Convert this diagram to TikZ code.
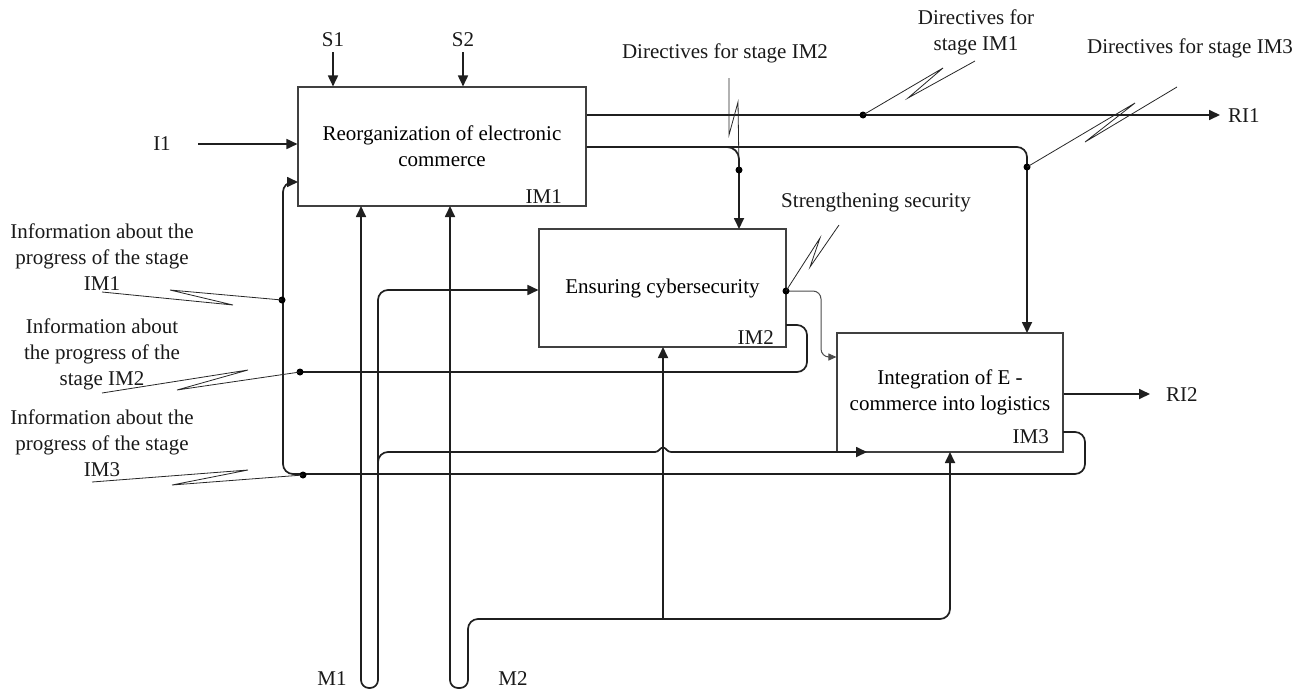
\documentclass[tikz,border=0pt]{standalone}
\usepackage{fontspec}
\setmainfont{Liberation Serif}
\usetikzlibrary{arrows.meta}
\begin{document}
\begin{tikzpicture}[x=1pt,y=-1pt,
  font=\fontsize{21}{26}\selectfont,
  box/.style={draw=black!75, line width=1.1pt, align=center, inner sep=0pt},
  main/.style={line width=1.7pt, draw=black!88},
  thinline/.style={line width=1pt, draw=black!70},
  arr/.style={-{Triangle[length=11pt,width=10pt]}},
  sarr/.style={-{Triangle[length=8pt,width=7pt]}},
  lead/.style={line width=0.8pt, draw=black!85},
  dot/.style={circle, fill=black, inner sep=0pt, minimum size=7pt},
  txt/.style={inner sep=0pt, align=center, text=black!90}]
\useasboundingbox (0,0) rectangle (1313,691);

% boxes
\node[box, minimum width=288pt, minimum height=119pt] (im1) at (442,146.5) {Reorganization of electronic\\commerce};
\node[box, minimum width=247pt, minimum height=118pt] (im2) at (662.5,288) {Ensuring cybersecurity};
\node[box, minimum width=226pt, minimum height=119pt] (im3) at (950,392.5) {Integration of E -\\commerce into logistics};
\node[txt, anchor=east] (l1) at (562,197) {IM1};
\node[txt, anchor=east] (l2) at (774,338) {IM2};
\node[txt, anchor=east] (l3) at (1049,437) {IM3};

% texts
\node[txt] (s1) at (333,40) {S1};
\node[txt] (s2) at (463,40) {S2};
\node[txt] (i1) at (162,144) {I1};
\node[txt] (m1) at (332,679) {M1};
\node[txt] (m2) at (513,679) {M2};
\node[txt, anchor=west] (ri1) at (1228,116) {RI1};
\node[txt, anchor=west] (ri2) at (1166,395) {RI2};
\node[txt] (t1) at (976,32) {Directives for\\stage IM1};
\node[txt] (t2) at (725,53) {Directives for stage IM2};
\node[txt] (t3) at (1190,48) {Directives for stage IM3};
\node[txt] (t4) at (876,202) {Strengthening security};
\node[txt] (f1) at (102,257.5) {Information about the\\progress of the stage\\IM1};
\node[txt] (f2) at (102,354) {Information about\\the progress of the\\stage IM2};
\node[txt] (f3) at (102,443) {Information about the\\progress of the stage\\IM3};

% named points
\coordinate (s1b) at (333,52);
\coordinate (s2b) at (463,52);
\coordinate (i1e) at (198,144);
\coordinate (ri1w) at (1220,115);
\coordinate (ri2w) at (1150,394);

% inputs / controls
\draw[main,arr] (s1b) -- (s1b |- im1.north);
\draw[main,arr] (s2b) -- (s2b |- im1.north);
\draw[main,arr] (i1e) -- (i1e -| im1.west);

% outputs of IM1
\draw[main,arr] (im1.east |- ri1w) -- (ri1w);
\draw[main,arr,rounded corners=10pt] (im1.east |- 0,147) -- (1027,147) -- (1027,333);
\draw[main,arr,rounded corners=12pt] (722,147) -- (739,147) -- (739,229);

% output of IM3
\draw[main,arr] (im3.east |- ri2w) -- (ri2w);

% feedback from IM3
\draw[main,arr,rounded corners=10pt] (1063,432) -- (1085,432) -- (1085,474) -- (283,474) -- (283,182) -- (298,182);
% feedback from IM2
\draw[main,rounded corners=10pt] (786,325) -- (807,325) -- (807,372) -- (300,372);

% strengthening security link IM2 -> IM3
\draw[thinline,sarr,rounded corners=8pt] (786,291) -- (821,291) -- (821,357) -- (im3.west |- 0,357);

% mechanism M1
\draw[main,arr,rounded corners=8pt] (378,620) -- (378,688) -- (361,688) -- (361,206);
\draw[main,arr,rounded corners=10pt] (378,640) -- (378,290) -- (im2.west |- 0,290);
\draw[main,rounded corners=10pt] (378,470) -- (378,452) -- (655,452);
\draw[main] (655,452) .. controls (659,452) and (660,447.5) .. (663,447.5)
   .. controls (666,447.5) and (667,452) .. (671,452);
\draw[main,arr] (671,452) -- (867,452);

% mechanism M2
\draw[main,arr,rounded corners=8pt] (468,632) -- (468,688) -- (450,688) -- (450,206);
\draw[main,arr,rounded corners=10pt] (468,640) -- (468,619) -- (950,619) -- (950,452);
\draw[main,arr] (663,619) -- (663,347);

% dots
\node[dot] (d1) at (863,115) {};
\node[dot] (d2) at (739,170) {};
\node[dot] (d3) at (1027,167) {};
\node[dot] (d4) at (786,291) {};
\node[dot] (d5) at (282,300) {};
\node[dot] (d6) at (300,372) {};
\node[dot] (d7) at (303,475) {};

% leaders (lightning)
\draw[lead] (d1.center) -- (943,68) -- (908,98) -- (975,61);
\draw[lead] (729,78) -- (729,135) -- (738,102) -- (d2.center);
\draw[lead] (d3.center) -- (1135,103) -- (1085,142) -- (1177,87);
\draw[lead] (d4.center) -- (820,238) -- (810,267) -- (839,225);
\draw[lead] (102,292) -- (233,305) -- (170,290) -- (d5.center);
\draw[lead] (102,393) -- (248,370) -- (177,390) -- (d6.center);
\draw[lead] (92,482) -- (248,470) -- (172,485) -- (d7.center);
\end{tikzpicture}
\end{document}
